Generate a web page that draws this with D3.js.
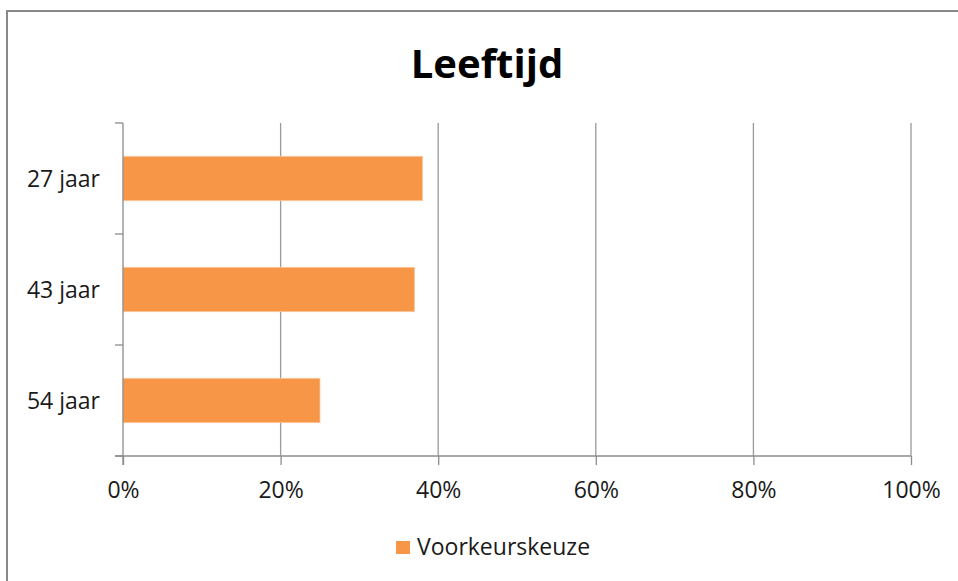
<!DOCTYPE html>
<html>
<head>
<meta charset="utf-8">
<script src="https://cdn.jsdelivr.net/npm/d3@7"></script>
<style>
  body { margin: 0; background: #fff; }
  svg { display: block; }
  text { font-family: "Open Sans", sans-serif; fill: #1a1a1a; }
</style>
</head>
<body>
<div id="chart"></div>
<script>
var categories = ["27 jaar", "43 jaar", "54 jaar"];
var values = [0.38, 0.37, 0.25];
var xTicks = [0, 0.2, 0.4, 0.6, 0.8, 1.0];
var seriesName = "Voorkeurskeuze";

var width = 958, height = 581;
var margin = {top: 123, left: 123, right: 47, bottom: 125};

var svg = d3.select("#chart").append("svg")
    .attr("width", width)
    .attr("height", height);

// chart frame (only left and top edges are visible in the crop)
svg.append("path")
    .attr("d", "M7,600V11H970")
    .attr("fill", "none")
    .attr("stroke", "#898989")
    .attr("stroke-width", 2);

var x = d3.scaleLinear()
    .domain([0, 1])
    .range([margin.left, width - margin.right]);

var y = d3.scaleBand()
    .domain(categories)
    .range([margin.top, height - margin.bottom])
    .paddingInner(0.6)
    .paddingOuter(0.3);

var plotTop = margin.top, plotBottom = height - margin.bottom;

// vertical gridlines
svg.append("g")
    .selectAll("line")
    .data(xTicks.slice(1))
    .enter().append("line")
    .attr("x1", function(d) { return x(d); })
    .attr("x2", function(d) { return x(d); })
    .attr("y1", plotTop)
    .attr("y2", plotBottom)
    .attr("stroke", "#9a9a9a")
    .attr("stroke-width", 1.3);

// bars
svg.append("g")
    .selectAll("rect")
    .data(values)
    .enter().append("rect")
    .attr("x", x(0))
    .attr("y", function(d, i) { return y(categories[i]); })
    .attr("width", function(d) { return x(d) - x(0); })
    .attr("height", y.bandwidth())
    .attr("fill", "#f79646")
    .attr("stroke", "#fbc9a3")
    .attr("stroke-width", 0.8);

// x axis
var xAxis = svg.append("g")
    .attr("transform", "translate(0," + plotBottom + ")")
    .call(d3.axisBottom(x)
        .tickValues(xTicks)
        .tickFormat(d3.format(".0%"))
        .tickSize(9)
        .tickPadding(17)
        .tickSizeOuter(0));
xAxis.select(".domain").remove();
xAxis.selectAll(".tick line").attr("stroke", "#8c8c8c").attr("stroke-width", 1.3);
xAxis.selectAll(".tick text")
    .attr("font-size", 23)
    .style("fill", "#1a1a1a");

svg.append("line")
    .attr("x1", x(0) - 8)
    .attr("x2", x(1))
    .attr("y1", plotBottom)
    .attr("y2", plotBottom)
    .attr("stroke", "#8c8c8c")
    .attr("stroke-width", 1.3);

// y axis: ticks at category boundaries
var bounds = d3.range(categories.length + 1).map(function(i) {
    return plotTop + i * (plotBottom - plotTop) / categories.length;
});
svg.append("line")
    .attr("x1", x(0))
    .attr("x2", x(0))
    .attr("y1", plotTop)
    .attr("y2", plotBottom + 9)
    .attr("stroke", "#8c8c8c")
    .attr("stroke-width", 1.3);
svg.append("g")
    .selectAll("line")
    .data(bounds)
    .enter().append("line")
    .attr("x1", x(0) - 8)
    .attr("x2", x(0))
    .attr("y1", function(d) { return d; })
    .attr("y2", function(d) { return d; })
    .attr("stroke", "#8c8c8c")
    .attr("stroke-width", 1.3);

svg.append("g")
    .selectAll("text")
    .data(categories)
    .enter().append("text")
    .attr("x", x(0) - 23)
    .attr("y", function(d) { return y(d) + y.bandwidth() / 2; })
    .attr("dy", "0.35em")
    .attr("text-anchor", "end")
    .attr("font-size", 23)
    .text(function(d) { return d; });

// title
svg.append("text")
    .attr("x", 487)
    .attr("y", 78)
    .attr("text-anchor", "middle")
    .attr("font-size", 40)
    .attr("font-weight", "bold")
    .style("fill", "#000")
    .text("Leeftijd");

// legend
var legend = svg.append("g").attr("transform", "translate(396,541)");
legend.append("rect")
    .attr("width", 14)
    .attr("height", 13)
    .attr("fill", "#f79646");
legend.append("text")
    .attr("x", 21)
    .attr("y", 14)
    .attr("font-size", 23)
    .text(seriesName);
</script>
</body>
</html>
